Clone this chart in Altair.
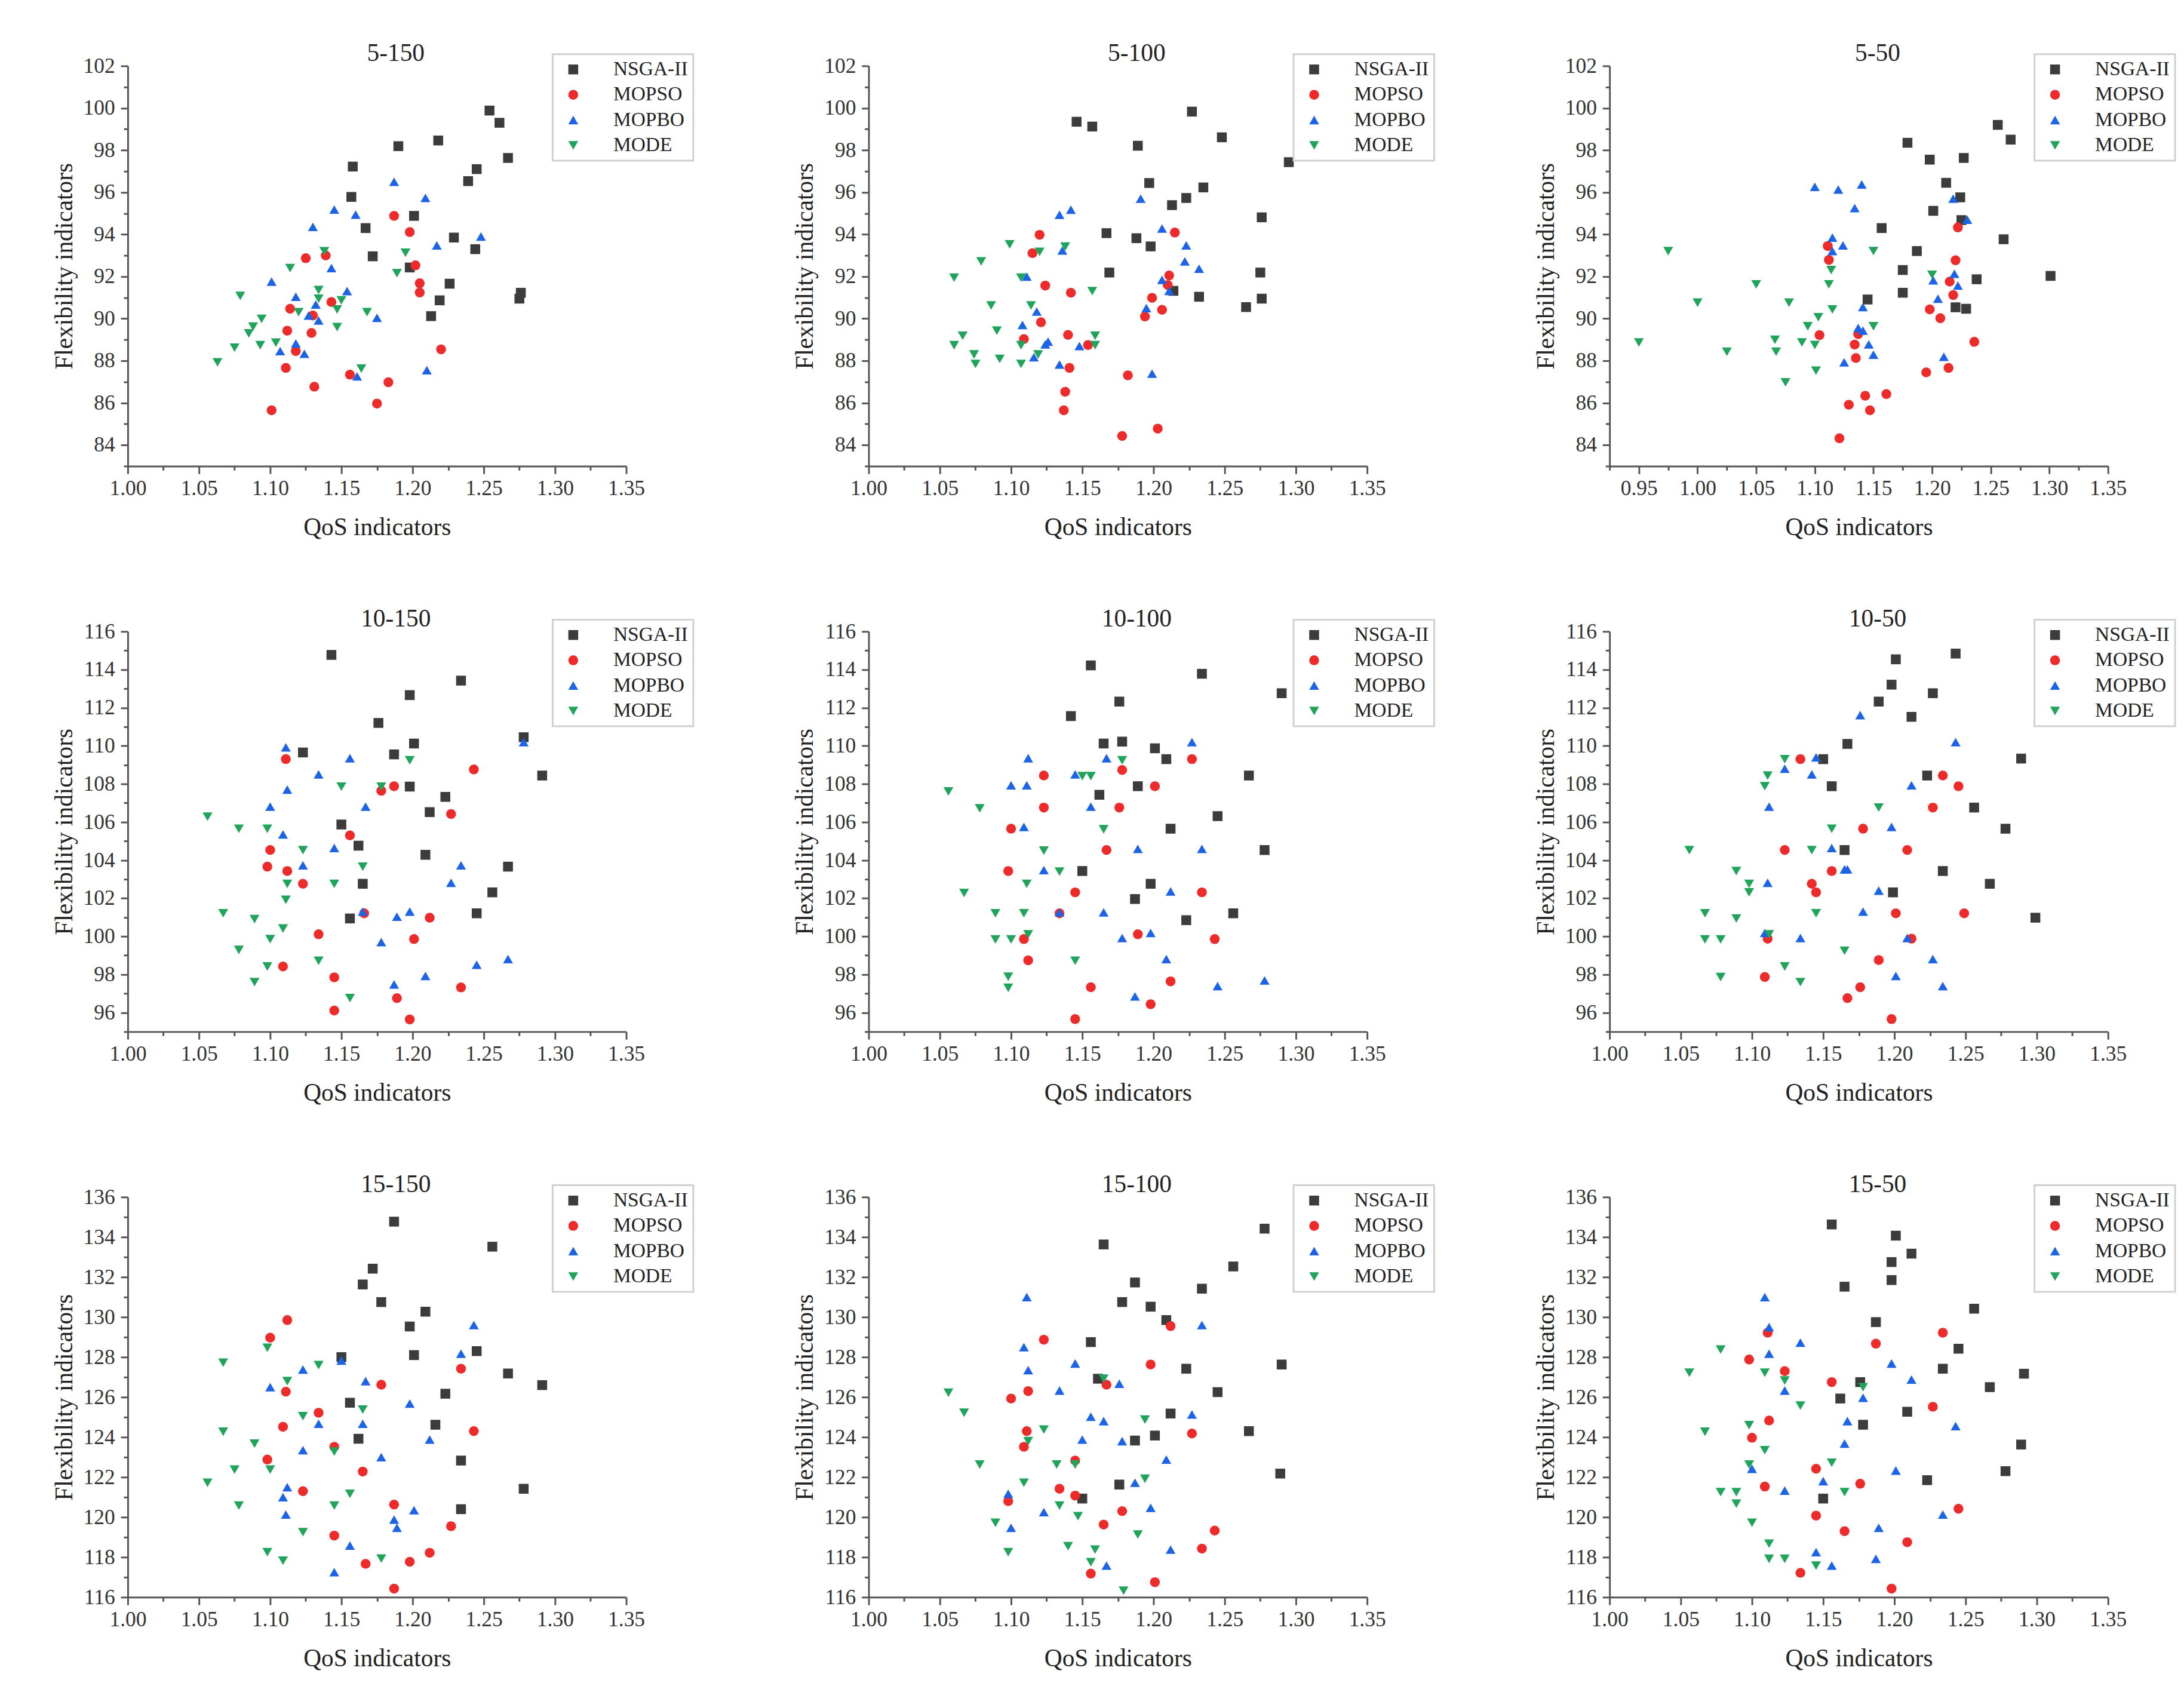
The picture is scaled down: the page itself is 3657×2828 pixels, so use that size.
import altair as alt
import pandas as pd

SERIES = ["NSGA-II", "MOPSO", "MOPBO", "MODE"]
COLORS = ["#3c3c3c", "#ee2b2b", "#1d63e6", "#20a35a"]
SHAPES = ["square", "circle", "triangle-up", "triangle-down"]

# ---------------- panel 5-150 ----------------
P5_150_NSGA_X = [1.254, 1.261, 1.218, 1.190, 1.267, 1.158, 1.245, 1.239, 1.157, 1.201, 1.167, 1.229, 1.244, 1.172, 1.198, 1.226, 1.276, 1.275, 1.219, 1.213]
P5_150_NSGA_Y = [99.88, 99.30, 98.46, 98.19, 97.63, 97.22, 97.10, 96.53, 95.78, 94.88, 94.30, 93.85, 93.30, 92.96, 92.43, 91.66, 91.23, 90.95, 90.87, 90.12]
P5_150_MOPSO_X = [1.187, 1.198, 1.125, 1.139, 1.202, 1.205, 1.205, 1.143, 1.114, 1.130, 1.112, 1.129, 1.118, 1.220, 1.111, 1.156, 1.131, 1.183, 1.175, 1.101]
P5_150_MOPSO_Y = [94.88, 94.11, 92.87, 93.00, 92.53, 91.68, 91.24, 90.79, 90.47, 90.15, 89.43, 89.32, 88.46, 88.54, 87.66, 87.34, 86.77, 86.98, 85.97, 85.65]
P5_150_MOPBO_X = [1.187, 1.209, 1.145, 1.160, 1.130, 1.248, 1.217, 1.143, 1.101, 1.154, 1.118, 1.132, 1.127, 1.134, 1.175, 1.118, 1.107, 1.124, 1.210, 1.161]
P5_150_MOPBO_Y = [96.50, 95.73, 95.18, 94.94, 94.36, 93.90, 93.48, 92.40, 91.76, 91.31, 91.04, 90.67, 90.15, 89.91, 90.04, 88.82, 88.46, 88.33, 87.55, 87.26]
P5_150_MODE_X = [1.138, 1.195, 1.114, 1.189, 1.079, 1.134, 1.134, 1.150, 1.120, 1.147, 1.168, 1.094, 1.088, 1.085, 1.147, 1.104, 1.093, 1.075, 1.063, 1.164]
P5_150_MODE_Y = [93.20, 93.13, 92.40, 92.16, 91.08, 91.36, 90.95, 90.87, 90.31, 90.44, 90.31, 89.99, 89.62, 89.30, 89.60, 88.86, 88.74, 88.62, 87.93, 87.63]

# ---------------- panel 5-100 ----------------
P5_100_NSGA_X = [1.227, 1.146, 1.157, 1.248, 1.189, 1.295, 1.197, 1.235, 1.223, 1.213, 1.276, 1.167, 1.188, 1.198, 1.169, 1.275, 1.214, 1.232, 1.276, 1.265]
P5_100_NSGA_Y = [99.83, 99.35, 99.12, 98.61, 98.21, 97.43, 96.44, 96.23, 95.73, 95.39, 94.81, 94.06, 93.82, 93.43, 92.19, 92.19, 91.32, 91.04, 90.95, 90.55]
P5_100_MOPSO_X = [1.215, 1.120, 1.115, 1.211, 1.124, 1.142, 1.210, 1.199, 1.206, 1.194, 1.121, 1.140, 1.109, 1.154, 1.141, 1.182, 1.138, 1.137, 1.203, 1.178]
P5_100_MOPSO_Y = [94.09, 93.98, 93.11, 92.05, 91.57, 91.23, 91.60, 90.99, 90.42, 90.10, 89.83, 89.23, 89.03, 88.75, 87.66, 87.31, 86.53, 85.65, 84.78, 84.43]
P5_100_MOPBO_X = [1.191, 1.142, 1.134, 1.206, 1.223, 1.136, 1.222, 1.232, 1.206, 1.111, 1.211, 1.195, 1.118, 1.108, 1.126, 1.124, 1.148, 1.116, 1.134, 1.199]
P5_100_MOPBO_Y = [95.70, 95.17, 94.93, 94.28, 93.48, 93.24, 92.72, 92.37, 91.84, 92.00, 91.32, 90.50, 90.34, 89.70, 88.91, 88.78, 88.70, 88.17, 87.82, 87.39]
P5_100_MODE_X = [1.099, 1.138, 1.120, 1.079, 1.060, 1.107, 1.157, 1.086, 1.114, 1.090, 1.066, 1.159, 1.060, 1.107, 1.159, 1.074, 1.119, 1.092, 1.075, 1.107]
P5_100_MODE_Y = [93.53, 93.42, 93.17, 92.72, 91.95, 91.95, 91.31, 90.63, 90.63, 89.43, 89.19, 89.19, 88.74, 88.74, 88.74, 88.30, 88.30, 88.09, 87.85, 87.85]

# ---------------- panel 5-50 ----------------
P5_50_NSGA_X = [1.256, 1.267, 1.179, 1.198, 1.227, 1.212, 1.224, 1.201, 1.157, 1.225, 1.261, 1.187, 1.175, 1.301, 1.238, 1.175, 1.145, 1.220, 1.229]
P5_50_NSGA_Y = [99.20, 98.50, 98.35, 97.55, 97.63, 96.45, 95.76, 95.12, 94.30, 94.68, 93.77, 93.21, 92.31, 92.03, 91.87, 91.23, 90.91, 90.54, 90.47]
P5_50_MOPSO_X = [1.222, 1.111, 1.220, 1.112, 1.215, 1.218, 1.198, 1.207, 1.104, 1.137, 1.134, 1.236, 1.135, 1.195, 1.214, 1.161, 1.143, 1.129, 1.147, 1.121]
P5_50_MOPSO_Y = [94.33, 93.45, 92.77, 92.79, 91.76, 91.12, 90.44, 90.02, 89.22, 89.27, 88.77, 88.90, 88.13, 87.45, 87.66, 86.42, 86.34, 85.91, 85.65, 84.32]
P5_50_MOPBO_X = [1.140, 1.100, 1.120, 1.134, 1.218, 1.230, 1.115, 1.124, 1.115, 1.219, 1.201, 1.222, 1.205, 1.141, 1.137, 1.141, 1.146, 1.150, 1.210, 1.125]
P5_50_MOPBO_Y = [96.37, 96.26, 96.13, 95.25, 95.70, 94.70, 93.85, 93.48, 93.21, 92.13, 91.82, 91.57, 90.95, 90.55, 89.56, 89.43, 88.78, 88.29, 88.19, 87.93]
P5_50_MODE_X = [0.975, 1.150, 1.114, 1.200, 1.050, 1.112, 1.000, 1.078, 1.115, 1.103, 1.094, 1.150, 0.950, 1.066, 1.089, 1.100, 1.025, 1.067, 1.101, 1.075]
P5_50_MODE_Y = [93.21, 93.21, 92.31, 92.08, 91.63, 91.63, 90.76, 90.76, 90.44, 90.07, 89.64, 89.64, 88.87, 89.00, 88.87, 88.75, 88.43, 88.43, 87.53, 86.98]

# ---------------- panel 10-150 ----------------
P10_150_NSGA_X = [1.143, 1.234, 1.198, 1.176, 1.278, 1.201, 1.123, 1.187, 1.291, 1.198, 1.223, 1.212, 1.150, 1.162, 1.209, 1.267, 1.165, 1.256, 1.245, 1.156]
P10_150_NSGA_Y = [114.77, 113.42, 112.66, 111.20, 110.45, 110.12, 109.65, 109.55, 108.44, 107.86, 107.32, 106.52, 105.87, 104.76, 104.28, 103.66, 102.76, 102.31, 101.21, 100.94]
P10_150_MOPSO_X = [1.111, 1.243, 1.187, 1.178, 1.227, 1.156, 1.100, 1.098, 1.112, 1.123, 1.166, 1.212, 1.134, 1.201, 1.109, 1.145, 1.234, 1.189, 1.145, 1.198]
P10_150_MOPSO_Y = [109.30, 108.76, 107.88, 107.64, 106.42, 105.30, 104.53, 103.66, 103.43, 102.76, 101.21, 100.98, 100.11, 99.86, 98.42, 97.85, 97.32, 96.76, 96.11, 95.64]
P10_150_MOPBO_X = [1.278, 1.111, 1.156, 1.134, 1.112, 1.167, 1.100, 1.109, 1.145, 1.123, 1.234, 1.227, 1.165, 1.198, 1.189, 1.178, 1.267, 1.245, 1.209, 1.187]
P10_150_MOPBO_Y = [110.19, 109.92, 109.35, 108.50, 107.70, 106.81, 106.81, 105.35, 104.64, 103.73, 103.73, 102.81, 101.30, 101.30, 101.03, 99.70, 98.81, 98.51, 97.92, 97.48]
P10_150_MODE_X = [1.198, 1.150, 1.178, 1.056, 1.078, 1.098, 1.123, 1.165, 1.112, 1.145, 1.111, 1.067, 1.089, 1.109, 1.100, 1.078, 1.134, 1.098, 1.089, 1.156]
P10_150_MODE_Y = [109.24, 107.86, 107.86, 106.28, 105.65, 105.65, 104.53, 103.66, 102.76, 102.76, 101.92, 101.21, 100.91, 100.41, 99.86, 99.29, 98.72, 98.42, 97.60, 96.76]

# ---------------- panel 10-100 ----------------
P10_100_NSGA_X = [1.156, 1.234, 1.290, 1.176, 1.142, 1.178, 1.165, 1.201, 1.209, 1.267, 1.189, 1.162, 1.245, 1.212, 1.278, 1.150, 1.198, 1.187, 1.256, 1.223]
P10_100_NSGA_Y = [114.22, 113.78, 112.76, 112.32, 111.56, 110.22, 110.12, 109.87, 109.30, 108.44, 107.88, 107.43, 106.31, 105.65, 104.53, 103.43, 102.76, 101.96, 101.21, 100.85]
P10_100_MOPSO_X = [1.227, 1.178, 1.123, 1.201, 1.123, 1.176, 1.100, 1.167, 1.098, 1.145, 1.234, 1.134, 1.189, 1.109, 1.243, 1.112, 1.212, 1.156, 1.198, 1.145]
P10_100_MOPSO_Y = [109.30, 108.73, 108.44, 107.88, 106.76, 106.76, 105.65, 104.53, 103.43, 102.31, 102.31, 101.21, 100.11, 99.86, 99.86, 98.74, 97.64, 97.33, 96.44, 95.66]
P10_100_MOPBO_X = [1.227, 1.112, 1.167, 1.145, 1.100, 1.111, 1.156, 1.109, 1.189, 1.234, 1.123, 1.212, 1.134, 1.165, 1.198, 1.178, 1.209, 1.278, 1.245, 1.187]
P10_100_MOPBO_Y = [110.19, 109.35, 109.35, 108.50, 107.93, 107.93, 106.81, 105.74, 104.59, 104.59, 103.48, 102.36, 101.26, 101.26, 100.18, 99.91, 98.81, 97.69, 97.39, 96.85]
P10_100_MODE_X = [1.178, 1.150, 1.156, 1.056, 1.078, 1.165, 1.123, 1.134, 1.111, 1.067, 1.089, 1.109, 1.112, 1.089, 1.100, 1.145, 1.098, 1.098]
P10_100_MODE_Y = [109.24, 108.41, 108.41, 107.61, 106.72, 105.62, 104.50, 103.40, 102.76, 102.28, 101.21, 101.21, 100.11, 99.84, 99.84, 98.72, 97.88, 97.30]

# ---------------- panel 10-50 ----------------
P10_50_NSGA_X = [1.243, 1.201, 1.198, 1.227, 1.189, 1.212, 1.167, 1.150, 1.289, 1.223, 1.156, 1.256, 1.278, 1.165, 1.234, 1.267, 1.199, 1.299]
P10_50_NSGA_Y = [114.84, 114.54, 113.21, 112.76, 112.32, 111.52, 110.10, 109.30, 109.33, 108.44, 107.88, 106.76, 105.65, 104.53, 103.43, 102.76, 102.31, 100.98]
P10_50_MOPSO_X = [1.134, 1.234, 1.245, 1.227, 1.178, 1.123, 1.209, 1.156, 1.142, 1.145, 1.201, 1.249, 1.111, 1.212, 1.189, 1.109, 1.176, 1.167, 1.198]
P10_50_MOPSO_Y = [109.30, 108.44, 107.88, 106.76, 105.65, 104.53, 104.53, 103.43, 102.76, 102.31, 101.21, 101.21, 99.88, 99.88, 98.76, 97.87, 97.33, 96.76, 95.66]
P10_50_MOPBO_X = [1.176, 1.243, 1.145, 1.123, 1.142, 1.212, 1.112, 1.198, 1.156, 1.165, 1.167, 1.111, 1.189, 1.178, 1.109, 1.134, 1.209, 1.227, 1.201, 1.234]
P10_50_MOPBO_Y = [111.61, 110.19, 109.39, 108.80, 108.50, 107.93, 106.81, 105.74, 104.64, 103.52, 103.52, 102.81, 102.40, 101.30, 100.18, 99.91, 99.91, 98.81, 97.92, 97.39]
P10_50_MODE_X = [1.123, 1.111, 1.109, 1.189, 1.156, 1.056, 1.142, 1.089, 1.098, 1.098, 1.067, 1.145, 1.089, 1.112, 1.067, 1.078, 1.165, 1.123, 1.078, 1.134]
P10_50_MODE_Y = [109.30, 108.44, 107.88, 106.76, 105.65, 104.53, 104.53, 103.43, 102.76, 102.31, 101.21, 101.21, 100.94, 100.11, 99.84, 99.84, 99.25, 98.42, 97.87, 97.60]

# ---------------- panel 15-150 ----------------
P15_150_NSGA_X = [1.187, 1.256, 1.172, 1.165, 1.178, 1.209, 1.198, 1.150, 1.201, 1.245, 1.267, 1.291, 1.223, 1.156, 1.216, 1.162, 1.234, 1.278, 1.234]
P15_150_NSGA_Y = [134.77, 133.52, 132.42, 131.63, 130.75, 130.27, 129.53, 128.00, 128.10, 128.30, 127.18, 126.60, 126.17, 125.72, 124.62, 123.92, 122.83, 121.42, 120.40]
P15_150_MOPSO_X = [1.112, 1.100, 1.234, 1.178, 1.111, 1.134, 1.109, 1.243, 1.145, 1.098, 1.165, 1.123, 1.187, 1.227, 1.145, 1.212, 1.198, 1.167, 1.187]
P15_150_MOPSO_Y = [129.85, 128.97, 127.42, 126.62, 126.27, 125.22, 124.52, 124.30, 123.52, 122.88, 122.28, 121.30, 120.63, 119.55, 119.08, 118.22, 117.77, 117.67, 116.43]
P15_150_MOPBO_X = [1.243, 1.234, 1.150, 1.123, 1.167, 1.100, 1.198, 1.134, 1.165, 1.212, 1.123, 1.178, 1.112, 1.109, 1.111, 1.201, 1.187, 1.189, 1.156, 1.145]
P15_150_MOPBO_Y = [129.60, 128.17, 127.83, 127.38, 126.80, 126.50, 125.68, 124.67, 124.67, 123.88, 123.35, 123.00, 121.50, 121.00, 120.13, 120.35, 119.88, 119.47, 118.58, 117.25]
P15_150_MODE_X = [1.098, 1.067, 1.134, 1.112, 1.165, 1.123, 1.067, 1.089, 1.145, 1.075, 1.100, 1.056, 1.156, 1.078, 1.145, 1.123, 1.098, 1.178, 1.109]
P15_150_MODE_Y = [128.47, 127.72, 127.60, 126.80, 125.38, 125.05, 124.27, 123.68, 123.28, 122.38, 122.38, 121.72, 121.17, 120.58, 120.58, 119.25, 118.25, 117.93, 117.83]

# ---------------- panel 15-100 ----------------
P15_100_NSGA_X = [1.278, 1.165, 1.256, 1.187, 1.234, 1.178, 1.198, 1.209, 1.156, 1.290, 1.223, 1.161, 1.245, 1.212, 1.267, 1.201, 1.187, 1.289, 1.176, 1.150]
P15_100_NSGA_Y = [134.42, 133.63, 132.53, 131.73, 131.42, 130.75, 130.52, 129.85, 128.75, 127.63, 127.42, 126.92, 126.25, 125.18, 124.30, 124.08, 123.83, 122.18, 121.63, 120.93]
P15_100_MOPSO_X = [1.212, 1.123, 1.198, 1.167, 1.112, 1.100, 1.227, 1.111, 1.109, 1.145, 1.134, 1.145, 1.098, 1.178, 1.165, 1.243, 1.234, 1.156, 1.201]
P15_100_MOPSO_Y = [129.55, 128.87, 127.63, 126.62, 126.30, 125.93, 124.18, 124.30, 123.52, 122.83, 121.42, 121.08, 120.80, 120.30, 119.63, 119.33, 118.43, 117.18, 116.75]
P15_100_MOPBO_X = [1.111, 1.234, 1.109, 1.145, 1.112, 1.176, 1.134, 1.156, 1.227, 1.165, 1.150, 1.178, 1.209, 1.187, 1.098, 1.123, 1.198, 1.100, 1.212, 1.167]
P15_100_MOPBO_Y = [131.00, 129.60, 128.50, 127.68, 127.35, 126.67, 126.33, 125.02, 125.13, 124.80, 123.88, 123.80, 122.88, 121.72, 121.17, 120.25, 120.47, 119.47, 118.38, 117.58]
P15_100_MODE_X = [1.165, 1.056, 1.067, 1.194, 1.123, 1.112, 1.078, 1.132, 1.145, 1.194, 1.109, 1.134, 1.147, 1.089, 1.189, 1.098, 1.140, 1.159, 1.156, 1.179]
P15_100_MODE_Y = [126.92, 126.22, 125.22, 124.88, 124.38, 123.80, 122.63, 122.63, 122.63, 121.92, 121.72, 120.58, 120.05, 119.72, 119.13, 118.25, 118.55, 118.38, 117.75, 116.33]

# ---------------- panel 15-50 ----------------
P15_50_NSGA_X = [1.156, 1.201, 1.212, 1.198, 1.198, 1.165, 1.256, 1.187, 1.245, 1.234, 1.291, 1.176, 1.267, 1.162, 1.209, 1.178, 1.289, 1.278, 1.223, 1.150]
P15_50_NSGA_Y = [134.63, 134.07, 133.17, 132.75, 131.85, 131.52, 130.42, 129.75, 128.42, 127.42, 127.17, 126.75, 126.50, 125.93, 125.27, 124.62, 123.63, 122.30, 121.85, 120.93]
P15_50_MOPSO_X = [1.234, 1.111, 1.187, 1.098, 1.123, 1.156, 1.227, 1.112, 1.100, 1.145, 1.176, 1.109, 1.245, 1.145, 1.165, 1.209, 1.134, 1.198]
P15_50_MOPSO_Y = [129.22, 129.22, 128.67, 127.88, 127.30, 126.75, 125.52, 124.83, 123.97, 122.42, 121.67, 121.53, 120.42, 120.08, 119.30, 118.75, 117.22, 116.43]
P15_50_MOPBO_X = [1.109, 1.112, 1.134, 1.112, 1.198, 1.212, 1.123, 1.178, 1.167, 1.243, 1.165, 1.100, 1.201, 1.150, 1.123, 1.234, 1.189, 1.145, 1.187, 1.156]
P15_50_MOPBO_Y = [131.00, 129.50, 128.72, 128.17, 127.68, 126.88, 126.33, 125.97, 124.80, 124.55, 123.68, 122.42, 122.33, 121.80, 121.33, 120.13, 119.47, 118.25, 117.92, 117.58]
P15_50_MODE_X = [1.078, 1.056, 1.109, 1.123, 1.178, 1.134, 1.098, 1.067, 1.109, 1.098, 1.156, 1.078, 1.089, 1.165, 1.089, 1.100, 1.112, 1.112, 1.123, 1.145]
P15_50_MODE_Y = [128.38, 127.22, 127.22, 126.83, 126.50, 125.58, 124.60, 124.27, 123.35, 122.63, 122.72, 121.25, 121.25, 121.25, 120.68, 119.72, 118.68, 117.92, 117.92, 117.58]

# ---------------- axes ----------------
X_TICKS_A = [1.000, 1.025, 1.050, 1.075, 1.100, 1.125, 1.150, 1.175, 1.200, 1.225, 1.250, 1.275, 1.300, 1.325, 1.350]
X_TICKS_B = [0.925, 0.950, 0.975] + X_TICKS_A
Y_TICKS_1 = list(range(83, 103))
Y_TICKS_2 = list(range(95, 117))
Y_TICKS_3 = list(range(116, 137))

PW, PH = 847, 680

X_MAJOR = "abs(datum.value*20 - round(datum.value*20)) < 0.001"
Y_MAJOR = "datum.value % 2 == 0"


def make_df(xs_list, ys_list):
    rows = []
    for k, (name, xs, ys) in enumerate(zip(SERIES, xs_list, ys_list)):
        for xv, yv in zip(xs, ys):
            rows.append({"alg": name, "qos": xv, "flex": yv, "ord": k})
    return pd.DataFrame(rows)


def legend():
    return alt.Legend(title=None, orient="none", legendX=722, legendY=-20)


def panel(title, xs_list, ys_list, xdom, xticks, ydom, yticks):
    df = make_df(xs_list, ys_list)
    return alt.Chart(df).mark_point(filled=True, size=280, opacity=1, strokeWidth=0).encode(
        x=alt.X("qos:Q", title="QoS indicators",
                scale=alt.Scale(domain=xdom, nice=False, zero=False),
                axis=alt.Axis(values=xticks,
                              labelExpr=X_MAJOR + " ? format(datum.value, '.2f') : ''",
                              tickSize={"condition": {"test": X_MAJOR, "value": 13}, "value": 7})),
        y=alt.Y("flex:Q", title="Flexibility indicators",
                scale=alt.Scale(domain=ydom, nice=False, zero=False),
                axis=alt.Axis(values=yticks,
                              labelExpr=Y_MAJOR + " ? format(datum.value, 'd') : ''",
                              tickSize={"condition": {"test": Y_MAJOR, "value": 12}, "value": 7})),
        color=alt.Color("alg:N", scale=alt.Scale(domain=SERIES, range=COLORS), legend=legend()),
        shape=alt.Shape("alg:N", scale=alt.Scale(domain=SERIES, range=SHAPES), legend=legend()),
        order=alt.Order("ord:Q"),
    ).properties(width=PW, height=PH, title=title)


p = [
    panel("5-150", [P5_150_NSGA_X, P5_150_MOPSO_X, P5_150_MOPBO_X, P5_150_MODE_X],
          [P5_150_NSGA_Y, P5_150_MOPSO_Y, P5_150_MOPBO_Y, P5_150_MODE_Y],
          [1.0, 1.35], X_TICKS_A, [83, 102], Y_TICKS_1),
    panel("5-100", [P5_100_NSGA_X, P5_100_MOPSO_X, P5_100_MOPBO_X, P5_100_MODE_X],
          [P5_100_NSGA_Y, P5_100_MOPSO_Y, P5_100_MOPBO_Y, P5_100_MODE_Y],
          [1.0, 1.35], X_TICKS_A, [83, 102], Y_TICKS_1),
    panel("5-50", [P5_50_NSGA_X, P5_50_MOPSO_X, P5_50_MOPBO_X, P5_50_MODE_X],
          [P5_50_NSGA_Y, P5_50_MOPSO_Y, P5_50_MOPBO_Y, P5_50_MODE_Y],
          [0.925, 1.35], X_TICKS_B, [83, 102], Y_TICKS_1),
    panel("10-150", [P10_150_NSGA_X, P10_150_MOPSO_X, P10_150_MOPBO_X, P10_150_MODE_X],
          [P10_150_NSGA_Y, P10_150_MOPSO_Y, P10_150_MOPBO_Y, P10_150_MODE_Y],
          [1.0, 1.35], X_TICKS_A, [95, 116], Y_TICKS_2),
    panel("10-100", [P10_100_NSGA_X, P10_100_MOPSO_X, P10_100_MOPBO_X, P10_100_MODE_X],
          [P10_100_NSGA_Y, P10_100_MOPSO_Y, P10_100_MOPBO_Y, P10_100_MODE_Y],
          [1.0, 1.35], X_TICKS_A, [95, 116], Y_TICKS_2),
    panel("10-50", [P10_50_NSGA_X, P10_50_MOPSO_X, P10_50_MOPBO_X, P10_50_MODE_X],
          [P10_50_NSGA_Y, P10_50_MOPSO_Y, P10_50_MOPBO_Y, P10_50_MODE_Y],
          [1.0, 1.35], X_TICKS_A, [95, 116], Y_TICKS_2),
    panel("15-150", [P15_150_NSGA_X, P15_150_MOPSO_X, P15_150_MOPBO_X, P15_150_MODE_X],
          [P15_150_NSGA_Y, P15_150_MOPSO_Y, P15_150_MOPBO_Y, P15_150_MODE_Y],
          [1.0, 1.35], X_TICKS_A, [116, 136], Y_TICKS_3),
    panel("15-100", [P15_100_NSGA_X, P15_100_MOPSO_X, P15_100_MOPBO_X, P15_100_MODE_X],
          [P15_100_NSGA_Y, P15_100_MOPSO_Y, P15_100_MOPBO_Y, P15_100_MODE_Y],
          [1.0, 1.35], X_TICKS_A, [116, 136], Y_TICKS_3),
    panel("15-50", [P15_50_NSGA_X, P15_50_MOPSO_X, P15_50_MOPBO_X, P15_50_MODE_X],
          [P15_50_NSGA_Y, P15_50_MOPSO_Y, P15_50_MOPBO_Y, P15_50_MODE_Y],
          [1.0, 1.35], X_TICKS_A, [116, 136], Y_TICKS_3),
]

rows = []
for r in range(3):
    rows.append(
        alt.hconcat(p[3 * r], p[3 * r + 1], p[3 * r + 2], spacing=167)
        .resolve_scale(color="independent", shape="independent")
    )

chart = alt.vconcat(*rows, spacing=113).resolve_scale(
    color="independent", shape="independent"
).properties(
    padding={"left": 80, "top": 40, "right": 5, "bottom": 5}
).configure_view(
    strokeWidth=0
).configure_axis(
    domainColor="#555555", domainWidth=3, tickColor="#555555", tickWidth=3,
    labelFont="Liberation Serif", labelFontSize=36, labelColor="#333333",
    titleFont="Liberation Serif", titleFontSize=42, titleFontWeight="normal", titleColor="#222222",
    grid=False, labelOverlap=False, labelFlush=False
).configure_axisX(
    labelPadding=8, titlePadding=28
).configure_axisY(
    labelPadding=10, titlePadding=10
).configure_title(
    font="Liberation Serif", fontSize=42, fontWeight="normal", color="#222222",
    offset=-22, dx=32, frame="group"
).configure_legend(
    labelFont="Liberation Serif", labelFontSize=34, labelColor="#222222",
    padding=9, strokeColor="#d0d0d0", strokeWidth=3, fillColor="#ffffff",
    rowPadding=9, labelOffset=51, symbolOffset=9, symbolSize=280, symbolStrokeWidth=0
)

chart.save("out.html", embed_options={"renderer": "svg", "actions": False})
